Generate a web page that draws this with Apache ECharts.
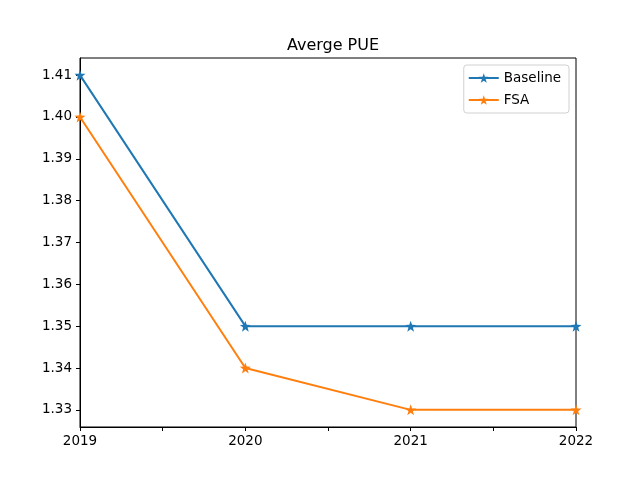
<!DOCTYPE html>
<html><head><meta charset="utf-8">
<script src="https://cdn.jsdelivr.net/npm/echarts@6/dist/echarts.min.js"></script>
<style>html,body{margin:0;padding:0;background:#fff}#c{width:640px;height:480px}</style>
</head><body><div id="c"></div>
<script>
const years = [2019, 2020, 2021, 2022];
const baseline = [1.41, 1.35, 1.35, 1.35];
const fsa = [1.40, 1.34, 1.33, 1.33];
const yTicks = [1.33, 1.34, 1.35, 1.36, 1.37, 1.38, 1.39, 1.40, 1.41];
const xTicks = [2019, 2019.5, 2020, 2020.5, 2021, 2021.5, 2022];
const xLabels = [2019, 2020, 2021, 2022];

const star = 'path://M0,-10 L2.35,-3.24 L9.51,-3.09 L3.8,1.24 L5.88,8.09 L0,4 L-5.88,8.09 L-3.8,1.24 L-9.51,-3.09 L-2.35,-3.24 Z';
const font = 'DejaVu Sans';
const chart = echarts.init(document.getElementById('c'), null, {renderer: 'canvas'});
chart.setOption({
  animation: false,
  title: {text: 'Averge PUE', left: 328, top: 33, textAlign: 'center',
    textStyle: {fontFamily: font, fontSize: 16, fontWeight: 'normal', color: '#000'}},
  legend: {
    right: 71, top: 65, orient: 'vertical', itemWidth: 30, itemHeight: 12, itemGap: 8,
    padding: [6, 8, 6, 4], borderColor: '#d0d0d0', borderWidth: 1, borderRadius: 3,
    textStyle: {fontFamily: font, fontSize: 13.5, color: '#000'},
    data: ['Baseline', 'FSA']
  },
  grid: {left: 80, right: 64, top: 58, bottom: 53, show: true, borderColor: '#000', borderWidth: 1},
  xAxis: {
    type: 'value', min: 2019, max: 2022,
    axisLine: {show: true, onZero: false, lineStyle: {color: '#000'}},
    axisTick: {show: true, length: 4, lineStyle: {color: '#000'}, customValues: xTicks},
    axisLabel: {customValues: xLabels, fontFamily: font, fontSize: 13.5, color: '#000', margin: 7,
      formatter: v => String(v)},
    splitLine: {show: false}
  },
  yAxis: {
    type: 'value', min: 1.3259, max: 1.4141,
    axisLine: {show: true, onZero: false, lineStyle: {color: '#000'}},
    axisTick: {show: true, length: 4, lineStyle: {color: '#000'}, customValues: yTicks},
    axisLabel: {customValues: yTicks, fontFamily: font, fontSize: 13.5, color: '#000', margin: 8,
      formatter: v => v.toFixed(2)},
    splitLine: {show: false}
  },
  series: [
    {name: 'Baseline', type: 'line', data: years.map((y, i) => [y, baseline[i]]),
     symbol: star, symbolSize: 11, itemStyle: {color: '#1f77b4'}, lineStyle: {width: 2, color: '#1f77b4'}, clip: false},
    {name: 'FSA', type: 'line', data: years.map((y, i) => [y, fsa[i]]),
     symbol: star, symbolSize: 11, itemStyle: {color: '#ff7f0e'}, lineStyle: {width: 2, color: '#ff7f0e'}, clip: false}
  ]
});
</script></body></html>
